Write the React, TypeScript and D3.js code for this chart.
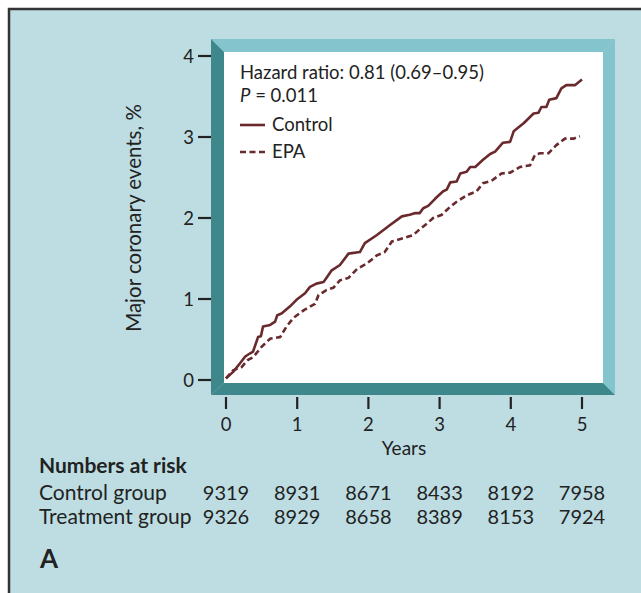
import React from 'react';
import * as d3 from 'd3';

// Kaplan-Meier style cumulative curves
const controlYears = [0, 0.1, 0.2, 0.27, 0.34, 0.38, 0.45, 0.49, 0.52, 0.62, 0.69, 0.72, 0.78, 0.9, 0.99, 1.11, 1.18, 1.27, 1.37, 1.41, 1.48, 1.6, 1.72, 1.88, 1.95, 2.12, 2.3, 2.47, 2.58, 2.65, 2.72, 2.77, 2.84, 2.94, 3.05, 3.1, 3.15, 3.24, 3.29, 3.38, 3.43, 3.5, 3.61, 3.71, 3.78, 3.89, 3.99, 4.04, 4.18, 4.32, 4.39, 4.43, 4.5, 4.54, 4.64, 4.71, 4.78, 4.9, 5.0];
const controlEvents = [0.02, 0.1, 0.21, 0.29, 0.33, 0.35, 0.53, 0.54, 0.66, 0.68, 0.72, 0.8, 0.82, 0.91, 0.99, 1.07, 1.15, 1.19, 1.21, 1.26, 1.35, 1.42, 1.56, 1.58, 1.69, 1.79, 1.91, 2.02, 2.04, 2.06, 2.06, 2.12, 2.15, 2.24, 2.33, 2.35, 2.44, 2.45, 2.55, 2.57, 2.63, 2.63, 2.72, 2.79, 2.82, 2.93, 2.94, 3.07, 3.17, 3.29, 3.3, 3.37, 3.37, 3.46, 3.48, 3.6, 3.64, 3.64, 3.71];

const epaYears = [0, 0.1, 0.22, 0.31, 0.38, 0.5, 0.62, 0.76, 0.85, 0.95, 1.09, 1.25, 1.3, 1.41, 1.51, 1.6, 1.72, 1.84, 1.98, 2.12, 2.23, 2.33, 2.49, 2.63, 2.72, 2.82, 2.91, 3.03, 3.15, 3.24, 3.38, 3.52, 3.61, 3.73, 3.87, 3.99, 4.13, 4.27, 4.34, 4.41, 4.53, 4.64, 4.76, 4.88, 4.97];
const epaEvents = [0.02, 0.12, 0.16, 0.25, 0.28, 0.41, 0.51, 0.53, 0.66, 0.77, 0.86, 0.94, 1.05, 1.11, 1.14, 1.23, 1.26, 1.37, 1.44, 1.54, 1.58, 1.71, 1.75, 1.79, 1.86, 1.93, 2.0, 2.04, 2.14, 2.2, 2.28, 2.33, 2.43, 2.46, 2.55, 2.56, 2.63, 2.65, 2.78, 2.8, 2.8, 2.9, 2.98, 2.98, 3.01];

const xTicks = [0, 1, 2, 3, 4, 5];
const yTicks = [0, 1, 2, 3, 4];

const riskLabels = ['Control group', 'Treatment group'];
const controlAtRisk = [9319, 8931, 8671, 8433, 8192, 7958];
const treatmentAtRisk = [9326, 8929, 8658, 8389, 8153, 7924];

const W = 641;
const H = 593;
const bg = '#bddde2';
const light = '#84c4cd';
const dark = '#3e888c';
const lineColour = '#6a2a2d';
const ink = '#222';
const font = 'Lato, "Open Sans", sans-serif';
const dash = '6,3.5';

export default function App() {
  const x = d3.scaleLinear().domain([0, 5]).range([226, 582]);
  const y = d3.scaleLinear().domain([0, 4]).range([380, 56]);

  const line = d3.line<[number, number]>()
    .x(d => x(d[0]))
    .y(d => y(d[1]));

  const controlPts = controlYears.map((t, i) => [t, controlEvents[i]] as [number, number]);
  const epaPts = epaYears.map((t, i) => [t, epaEvents[i]] as [number, number]);

  // bevelled frame around the plot
  const ox0 = 211, ox1 = 615, oy0 = 39, oy1 = 395;
  const ix0 = 224, ix1 = 603, iy0 = 52, iy1 = 383;

  const riskRows = [controlAtRisk, treatmentAtRisk];

  return (
    <svg width={W} height={H} style={{ position: 'absolute', left: 0, top: 0, fontFamily: font }}>
      <rect x={0} y={0} width={W} height={H} fill="#fff" />
      <rect x={9} y={9} width={W} height={H} fill={bg} stroke="#333" strokeWidth={2.5} />

      {/* frame */}
      <polygon points={`${ox0},${oy0} ${ox1},${oy0} ${ix1},${iy0} ${ix0},${iy0}`} fill={light} />
      <polygon points={`${ox1},${oy0} ${ox1},${oy1} ${ix1},${iy1} ${ix1},${iy0}`} fill={light} />
      <polygon points={`${ox0},${oy0} ${ix0},${iy0} ${ix0},${iy1} ${ox0},${oy1}`} fill={dark} />
      <polygon points={`${ox0},${oy1} ${ox1},${oy1} ${ix1},${iy1} ${ix0},${iy1}`} fill={dark} />
      <rect x={ix0} y={iy0} width={ix1 - ix0} height={iy1 - iy0} fill="#fff" />

      {/* y axis */}
      {yTicks.map(t => (
        <g key={t}>
          <line x1={198} x2={ox0} y1={y(t)} y2={y(t)} stroke={ink} strokeWidth={2.2} />
          <text x={194} y={y(t)} dy="0.36em" textAnchor="end" fontSize={18.5} fill={ink}>{t}</text>
        </g>
      ))}
      <text transform={`translate(141,${y(2)}) rotate(-90)`} textAnchor="middle" fontSize={20.5} fill={ink}>
        Major coronary events, %
      </text>

      {/* x axis */}
      {xTicks.map(t => (
        <g key={t}>
          <line x1={x(t)} x2={x(t)} y1={397} y2={409} stroke={ink} strokeWidth={2.2} />
          <text x={x(t)} y={431} textAnchor="middle" fontSize={18.5} fill={ink}>{t}</text>
        </g>
      ))}
      <text x={x(2.5)} y={455} textAnchor="middle" fontSize={19} fill={ink}>Years</text>

      {/* curves */}
      <path d={line(controlPts) ?? ''} fill="none" stroke={lineColour} strokeWidth={2.6} strokeLinejoin="round" />
      <path d={line(epaPts) ?? ''} fill="none" stroke={lineColour} strokeWidth={2.6} strokeDasharray={dash} />

      {/* legend */}
      <text x={240} y={79} fontSize={18.5} fill={ink}>Hazard ratio: 0.81 (0.69–0.95)</text>
      <text x={240} y={102} fontSize={18.5} fill={ink}>
        <tspan fontStyle="italic">P</tspan> = 0.011
      </text>
      <line x1={240} x2={265} y1={125} y2={125} stroke={lineColour} strokeWidth={2.6} />
      <text x={272} y={131} fontSize={18.5} fill={ink}>Control</text>
      <line x1={240} x2={265} y1={152} y2={152} stroke={lineColour} strokeWidth={2.6} strokeDasharray={dash} />
      <text x={272} y={158} fontSize={18.5} fill={ink}>EPA</text>

      {/* numbers at risk */}
      <text x={39} y={473} fontSize={21} fontWeight="bold" fill={ink}>Numbers at risk</text>
      {riskRows.map((row, r) => (
        <g key={r}>
          <text x={39} y={500 + r * 24} fontSize={21} fill={ink}>{riskLabels[r]}</text>
          {row.map((v, i) => (
            <text key={i} x={x(i)} y={500 + r * 24} textAnchor="middle" fontSize={20} fill={ink}>{v}</text>
          ))}
        </g>
      ))}

      <text x={40} y={568} fontSize={26} fontWeight="bold" fill={ink}>A</text>
    </svg>
  );
}
